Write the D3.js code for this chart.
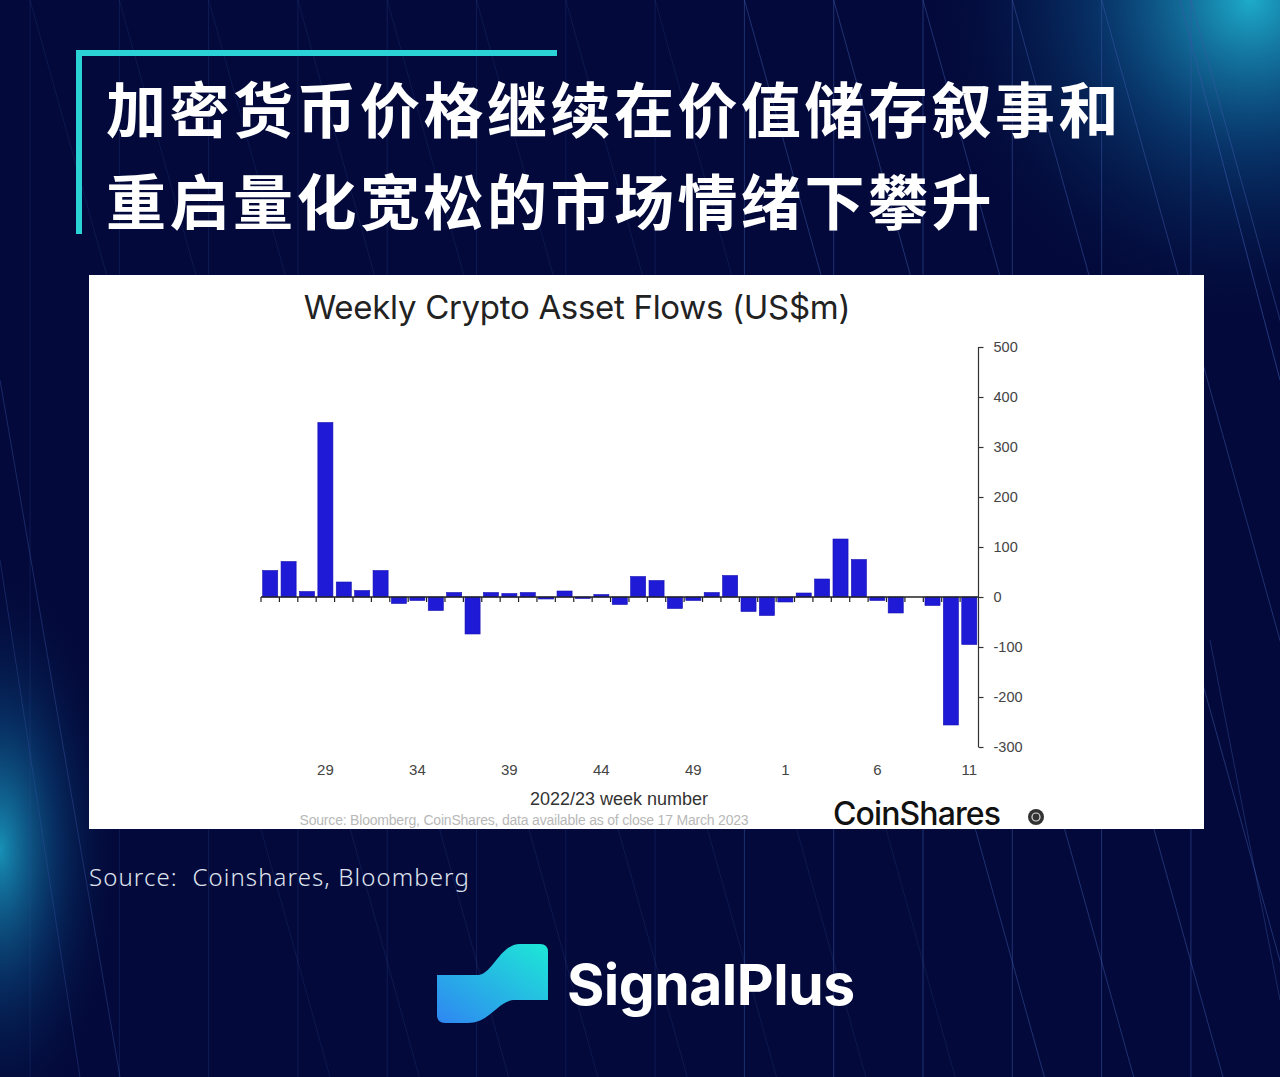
<!DOCTYPE html>
<html><head><meta charset="utf-8">
<script src="https://cdn.jsdelivr.net/npm/d3@7/dist/d3.min.js"></script>
<style>html,body{margin:0;padding:0;background:#030a3b;}svg{display:block;}</style>
</head><body>
<svg id="c" width="1280" height="1077"></svg>
<script>
const headline = ["加密货币价格继续在价值储存叙事和", "重启量化宽松的市场情绪下攀升"];
const chartTitle = "Weekly Crypto Asset Flows (US$m)";
const weeks = ["26","27","28","29","30","31","32","33","34","35","36","37","38","39","40","41","42","43","44","45","46","47","48","49","50","51","52","53","1","2","3","4","5","6","7","8","9","10","11"];
const flows = [53,71,11,349,30,13,53,-13,-7,-27,9,-74,9,7,9,-4,12,-3,5,-15,41,33,-23,-7,9,43,-29,-37,-10,8,36,116,75,-7,-32,0,-17,-256,-95];
const weekTicks = ["29","34","39","44","49","1","6","11"];
const yTicks = [500,400,300,200,100,0,-100,-200,-300];
const xTitle = "2022/23 week number";
const sourceNote = "Source: Bloomberg, CoinShares, data available as of close 17 March 2023";
const outerSource = "Source:  Coinshares, Bloomberg";
const brand = "SignalPlus";

const svg = d3.select("#c");
const defs = svg.append("defs");

// background
const g1 = defs.append("radialGradient").attr("id","glowTR").attr("cx",1250).attr("cy",0).attr("r",330).attr("gradientUnits","userSpaceOnUse");
g1.append("stop").attr("offset",0).attr("stop-color","#1fb4d2").attr("stop-opacity",0.95);
g1.append("stop").attr("offset",0.45).attr("stop-color","#0d5f98").attr("stop-opacity",0.5);
g1.append("stop").attr("offset",1).attr("stop-color","#030a3b").attr("stop-opacity",0);
const g2 = defs.append("radialGradient").attr("id","glowL").attr("cx",0).attr("cy",850).attr("r",200).attr("gradientUnits","userSpaceOnUse")
  .attr("gradientTransform","translate(0,850) scale(0.6,1.4) translate(0,-850)");
g2.append("stop").attr("offset",0).attr("stop-color","#1aa0c4").attr("stop-opacity",0.9);
g2.append("stop").attr("offset",0.5).attr("stop-color","#0b4f86").attr("stop-opacity",0.45);
g2.append("stop").attr("offset",1).attr("stop-color","#030a3b").attr("stop-opacity",0);

svg.append("rect").attr("width",1280).attr("height",1077).attr("fill","#030a3b");
svg.append("rect").attr("width",1280).attr("height",1077).attr("fill","url(#glowTR)");
svg.append("rect").attr("width",1280).attr("height",1077).attr("fill","url(#glowL)");

const deco = svg.append("g").attr("stroke","#3b57a8").attr("stroke-width",1).attr("fill","none");
for (let k = 0; k < 14; k++) {
  const x = 30 + 89.3 * k;
  deco.append("line").attr("x1",x).attr("x2",x).attr("y1",0).attr("y2",1077).attr("stroke-opacity", x > 700 ? 0.5 : 0.22);
  deco.append("line").attr("x1",x).attr("y1",0).attr("x2",x + 300).attr("y2",1077).attr("stroke-opacity", x > 700 ? 0.5 : 0.18);
}
deco.append("line").attr("x1",0).attr("y1",380).attr("x2",120).attr("y2",1077).attr("stroke-opacity",0.4);
deco.append("line").attr("x1",0).attr("y1",560).attr("x2",80).attr("y2",1077).attr("stroke-opacity",0.35);
deco.append("line").attr("x1",1180).attr("y1",0).attr("x2",1280).attr("y2",380).attr("stroke-opacity",0.6);
deco.append("line").attr("x1",1210).attr("y1",640).attr("x2",1280).attr("y2",1000).attr("stroke-opacity",0.4);

// teal bracket
svg.append("rect").attr("x",76).attr("y",50).attr("width",481).attr("height",6).attr("fill","#2cd3d6");
svg.append("rect").attr("x",76).attr("y",50).attr("width",6).attr("height",184).attr("fill","#2cd3d6");

// headline
svg.selectAll("text.hl").data(headline).join("text").attr("class","hl")
  .attr("x",106).attr("y",(d,i)=>106 + i*92).attr("dominant-baseline","central")
  .attr("fill","#ffffff").attr("font-family","'Noto Sans CJK SC'").attr("font-weight",700)
  .attr("font-size",60).attr("letter-spacing",3.5).text(d=>d);

// white panel
svg.append("rect").attr("x",89).attr("y",275).attr("width",1115).attr("height",554).attr("fill","#ffffff");

svg.append("text").attr("x",577).attr("y",307).attr("text-anchor","middle").attr("dominant-baseline","central")
  .attr("font-family","Inter, 'Liberation Sans', sans-serif").attr("font-size",33).attr("fill","#222")
  .attr("letter-spacing",-0.3).text(chartTitle);

const x = d3.scaleBand().domain(weeks).range([261, 978.5]).paddingInner(0.18).paddingOuter(0.09);
const y = d3.scaleLinear().domain([-300, 500]).range([747, 347]);

const plot = svg.append("g");
plot.selectAll("rect.bar").data(flows).join("rect").attr("class","bar")
  .attr("x",(d,i)=>x(weeks[i])).attr("width",x.bandwidth())
  .attr("y",d=>y(Math.max(0,d))).attr("height",d=>Math.abs(y(d)-y(0)))
  .attr("fill","#1e1ad6").attr("stroke","#1712b0").attr("stroke-width",0.6);

// baseline with ticks at band boundaries
plot.append("line").attr("x1",261).attr("x2",978.5).attr("y1",y(0)).attr("y2",y(0)).attr("stroke","#222").attr("stroke-width",1.3);
const bounds = weeks.map(w => x(w) - x.step()*x.paddingInner()/2);
plot.selectAll("line.bt").data(bounds).join("line").attr("class","bt")
  .attr("x1",d=>d).attr("x2",d=>d).attr("y1",y(0)).attr("y2",y(0)+5).attr("stroke","#222").attr("stroke-width",1.2);

// y axis on right
const yAxis = d3.axisRight(y).tickValues(yTicks).tickSize(5).tickPadding(10).tickFormat(d => String(d));
const ya = svg.append("g").attr("transform","translate(978.5,0)").call(yAxis);
ya.select(".domain").attr("stroke","#333").attr("stroke-width",1.2).attr("d","M0,347V747");
ya.selectAll(".tick line").attr("stroke","#333").attr("stroke-width",1.2);
ya.selectAll(".tick text").attr("font-family","'Liberation Sans', sans-serif").attr("font-size",14.5).attr("fill","#444");

// x tick labels
const xAxis = d3.axisBottom(x).tickValues(weekTicks).tickSize(0).tickPadding(0);
const xa = svg.append("g").attr("transform","translate(0,770)").call(xAxis);
xa.select(".domain").remove();
xa.selectAll(".tick text").attr("dy","0.35em").attr("font-family","'Liberation Sans', sans-serif").attr("font-size",15).attr("fill","#444");

svg.append("text").attr("x",619).attr("y",799).attr("text-anchor","middle").attr("dominant-baseline","central")
  .attr("font-family","'Liberation Sans', sans-serif").attr("font-size",18).attr("fill","#333").text(xTitle);
svg.append("text").attr("x",524).attr("y",820).attr("text-anchor","middle").attr("dominant-baseline","central")
  .attr("font-family","'Liberation Sans', sans-serif").attr("font-size",14).attr("fill","#b8b8b8").attr("letter-spacing",-0.2).text(sourceNote);

// CoinShares logo
svg.append("text").attr("x",833).attr("y",813).attr("dominant-baseline","central")
  .attr("font-family","Inter, sans-serif").attr("font-weight",500).attr("font-size",32).attr("fill","#111")
  .attr("letter-spacing",-0.9).text("CoinShares");
svg.append("circle").attr("cx",1036).attr("cy",817).attr("r",8).attr("fill","#333");
svg.append("circle").attr("cx",1036).attr("cy",817).attr("r",4).attr("fill","none").attr("stroke","#ddd").attr("stroke-width",1.2);

// outer source
svg.append("text").attr("x",89).attr("y",876).attr("dominant-baseline","central").style("white-space","pre")
  .attr("font-family","'Noto Sans', sans-serif").attr("font-weight",300).attr("font-size",24).attr("fill","#dfe3ee")
  .attr("letter-spacing",1.1).text(outerSource);

// SignalPlus logo
const lg = defs.append("linearGradient").attr("id","logoG").attr("x1","0%").attr("y1","100%").attr("x2","100%").attr("y2","0%");
lg.append("stop").attr("offset",0).attr("stop-color","#2f86f2");
lg.append("stop").attr("offset",1).attr("stop-color","#1de8d6");
svg.append("path").attr("fill","url(#logoG)")
  .attr("d","M437,975 L478,975 C492,975 500,944 520,944 L540,944 Q548,944 548,952 L548,1000 L515,1000 C498,1000 490,1023 468,1023 L445,1023 Q437,1023 437,1015 Z");
svg.append("text").attr("x",567).attr("y",984).attr("dominant-baseline","central")
  .attr("font-family","Inter, 'Noto Sans', sans-serif").attr("font-weight",700).attr("font-size",57).attr("fill","#ffffff")
  .attr("letter-spacing",-0.5).text(brand);
</script>
</body></html>
